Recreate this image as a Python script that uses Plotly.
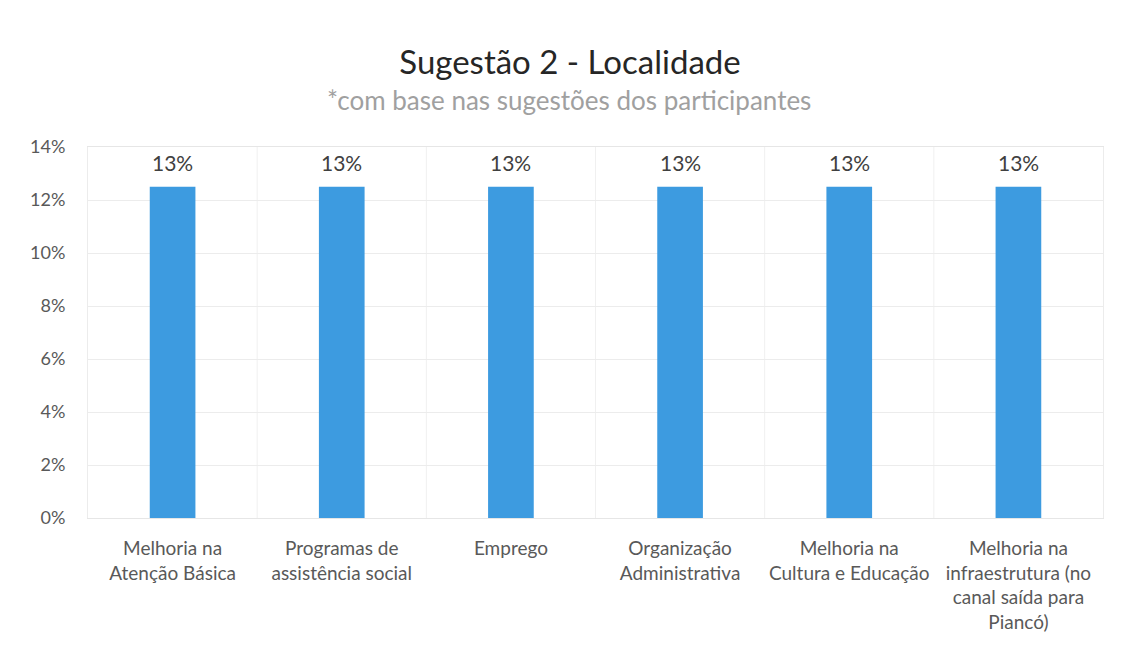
import math
import plotly.graph_objects as go

categories = [
    "Melhoria na<br>Atenção Básica",
    "Programas de<br>assistência social",
    "Emprego",
    "Organização<br>Administrativa",
    "Melhoria na<br>Cultura e Educação",
    "Melhoria na<br>infraestrutura (no<br>canal saída para<br>Piancó)",
]
values = [0.125, 0.125, 0.125, 0.125, 0.125, 0.125]
y_ticks = [0, 0.02, 0.04, 0.06, 0.08, 0.10, 0.12, 0.14]

FONT = "Lato, Open Sans, sans-serif"


def pct_label(v):
    # Excel-style rounding (half away from zero)
    return f"{int(math.floor(v * 100 + 0.5))}%"


fig = go.Figure(
    go.Bar(
        x=categories,
        y=values,
        marker=dict(color="#3d9be0", line=dict(width=0)),
        width=0.27,
        cliponaxis=False,
    )
)

# data labels above bars
for c, v in zip(categories, values):
    fig.add_annotation(
        x=c,
        y=v,
        xref="x",
        yref="y",
        text=pct_label(v),
        showarrow=False,
        yanchor="middle",
        yshift=24,
        font=dict(size=21, color="#404040", family=FONT),
    )

fig.update_layout(
    width=1124,
    height=647,
    paper_bgcolor="white",
    plot_bgcolor="white",
    margin=dict(l=80, r=29, t=139, b=137, autoexpand=False),
    showlegend=False,
    title=dict(
        text="Sugestão 2 - Localidade",
        x=0.5,
        xanchor="center",
        xref="container",
        yref="container",
        y=1 - 54 / 647,
        yanchor="middle",
        font=dict(size=33, color="#262626", family=FONT),
    ),
    font=dict(family=FONT),
)

fig.add_annotation(
    text="*com base nas sugestões dos participantes",
    xref="paper",
    yref="paper",
    x=(561 - 80) / (1124 - 80 - 29),
    y=1 + (139 - 92) / (647 - 139 - 137),
    xanchor="center",
    yanchor="middle",
    showarrow=False,
    font=dict(size=26, color="#a0a0a0", family=FONT),
)

fig.update_yaxes(
    range=[0, 0.14],
    tickvals=y_ticks,
    tickformat=".0%",
    showgrid=True,
    gridcolor="#ececec",
    gridwidth=1,
    zeroline=False,
    showline=True,
    linecolor="#ececec",
    mirror=True,
    ticks="",
    ticklabelstandoff=18,
    tickfont=dict(size=18, color="#595959", family=FONT),
)

fig.update_xaxes(
    showgrid=False,
    showline=True,
    linecolor="#e6e6e6",
    mirror=True,
    ticks="",
    ticklabelstandoff=13,
    tickfont=dict(size=19, color="#595959", family=FONT),
    tickangle=0,
)

# faint vertical category separators
for i in range(1, len(categories)):
    fig.add_shape(
        type="line",
        xref="x",
        yref="paper",
        x0=i - 0.5,
        x1=i - 0.5,
        y0=0,
        y1=1,
        line=dict(color="#f0f0f0", width=1),
        layer="below",
    )

fig.write_html("out.html")
